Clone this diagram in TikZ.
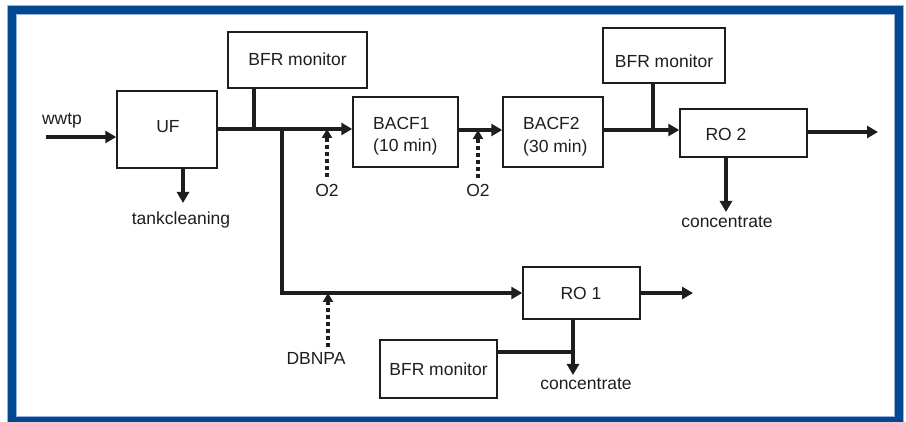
\documentclass[tikz,border=0pt]{standalone}
\usepackage{fontspec}
\setmainfont{Liberation Sans}
\usetikzlibrary{arrows.meta}
\definecolor{frameblue}{RGB}{0,72,145}
\definecolor{edgeblue}{RGB}{150,180,220}
\definecolor{ink}{RGB}{30,30,30}
\begin{document}
\begin{tikzpicture}[x=1pt,y=-1pt,
  box/.style={draw=ink,line width=1.5pt,inner sep=0pt,fill=white},
  txt/.style={inner sep=0pt,anchor=base,text=ink,font=\fontsize{17.5}{22}\selectfont},
  flow/.style={draw=ink,line width=4pt,-{Triangle[length=11pt,width=12pt]}},
  feed/.style={draw=ink,line width=4pt},
  dose/.style={draw=ink,line width=4pt,dash pattern=on 4pt off 3pt,-{Triangle[length=9pt,width=10pt]}}]
\useasboundingbox (0,0) rectangle (906,422);
% frame
\draw[frameblue,line width=8pt] (12,10) rectangle (899,421);
\draw[edgeblue,line width=0.8pt] (7.6,5.6) rectangle (903.4,425);
\draw[edgeblue,line width=0.8pt] (16.4,14.4) rectangle (894.6,416.6);
% boxes
\node[box,minimum width=100pt,minimum height=77pt] (uf) at (167,129.5) {};
\node[box,minimum width=139pt,minimum height=56pt] (bfr1) at (297.5,60) {};
\node[box,minimum width=105pt,minimum height=70pt] (bacf1) at (405.5,132) {};
\node[box,minimum width=100pt,minimum height=70pt] (bacf2) at (553,132) {};
\node[box,minimum width=122pt,minimum height=55pt] (bfr2) at (664,55.5) {};
\node[box,minimum width=127pt,minimum height=48pt] (ro2) at (743.5,133) {};
\node[box,minimum width=117pt,minimum height=52pt] (ro1) at (581.5,293) {};
\node[box,minimum width=117pt,minimum height=58pt] (bfr3) at (438.5,369) {};
% texts
\node[txt] (twwtp) at (62,125) {wwtp};
\node[txt] (tuf) at (168,133) {UF};
\node[txt] (ttank) at (181,225) {tankcleaning};
\node[txt] (tbfr1) at (297.5,66) {BFR monitor};
\node[txt] (to2a) at (327,197) {O2};
\node[txt,anchor=base west] (tb1a) at (373,130) {BACF1};
\node[txt,anchor=base west] (tb1b) at (373,152) {(10 min)};
\node[txt] (to2b) at (478,197) {O2};
\node[txt,anchor=base west] (tb2a) at (523,130) {BACF2};
\node[txt,anchor=base west] (tb2b) at (523,153) {(30 min)};
\node[txt] (tbfr2) at (664,68) {BFR monitor};
\node[txt] (tro2) at (726,141) {RO 2};
\node[txt] (tconc2) at (727,228) {concentrate};
\node[txt] (tro1) at (581,300) {RO 1};
\node[txt] (tdbnpa) at (316,365) {DBNPA};
\node[txt] (tbfr3) at (438.5,376) {BFR monitor};
\node[txt] (tconc1) at (586,390) {concentrate};
% coordinates
\coordinate (in) at (46,137);
\coordinate (j1) at (282,129);
\coordinate (m1) at (254,129);
\coordinate (o2a) at (327,177);
\coordinate (j2) at (478,130);
\coordinate (o2b) at (478,178);
\coordinate (j3) at (653,130);
\coordinate (out2) at (878,132);
\coordinate (c2) at (726,212);
\coordinate (tc) at (183,203);
\coordinate (out1) at (693,293);
\coordinate (c1) at (573,375);
\coordinate (j4) at (573,352);
\coordinate (db) at (328,347);
% connectors
\draw[flow] (in) -- (in -| uf.west);
\draw[flow] (tc |- uf.south) -- (tc);
\draw[flow] (uf.east |- j1) -- (j1 -| bacf1.west);
\draw[feed] (m1 |- bfr1.south) -- (m1);
\draw[flow] ([yshift=-2pt]j1) |- (ro1.west);
\draw[dose] (o2a) -- (o2a |- j1);
\draw[flow] (j2 -| bacf1.east) -- (j2 -| bacf2.west);
\draw[dose] (o2b) -- (j2);
\draw[flow] (j3 -| bacf2.east) -- (j3 -| ro2.west);
\draw[feed] (j3 |- bfr2.south) -- (j3);
\draw[flow] (out2 -| ro2.east) -- (out2);
\draw[flow] (c2 |- ro2.south) -- (c2);
\draw[flow] (ro1.east) -- (out1);
\draw[flow] (c1 |- ro1.south) -- (c1);
\draw[feed] (j4 -| bfr3.east) -- (j4);
\draw[dose] (db) -- (db |- ro1.west);
\end{tikzpicture}
\end{document}
